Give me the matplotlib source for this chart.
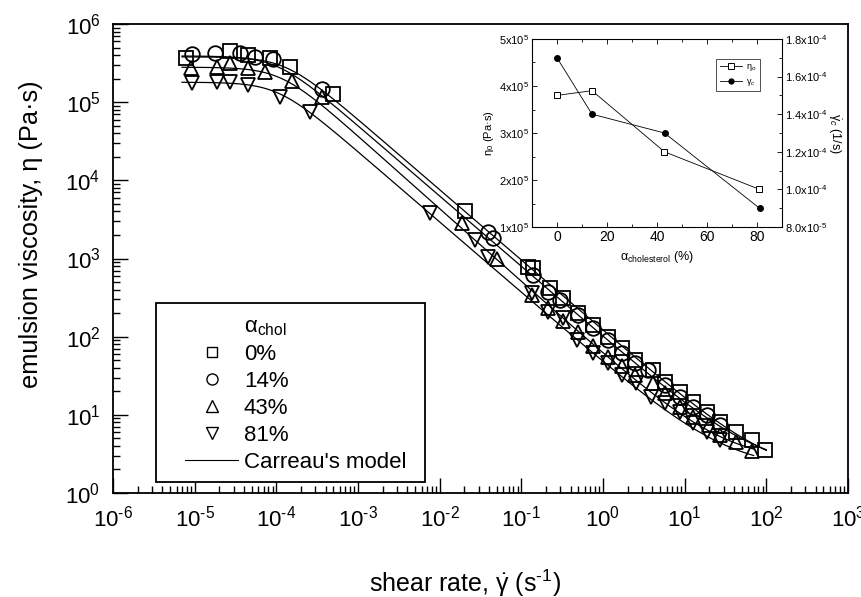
import numpy as np
import matplotlib
matplotlib.use("Agg")
import matplotlib.pyplot as plt
from matplotlib.lines import Line2D
from matplotlib.patches import Rectangle
from matplotlib.ticker import LogLocator, MultipleLocator, FuncFormatter, NullFormatter

plt.rcParams['font.family'] = ['Liberation Sans', 'DejaVu Sans']
plt.rcParams['mathtext.fontset'] = 'custom'
plt.rcParams['mathtext.rm'] = 'Liberation Sans'
plt.rcParams['mathtext.it'] = 'Liberation Sans:italic'
plt.rcParams['mathtext.bf'] = 'Liberation Sans:bold'
plt.rcParams['axes.unicode_minus'] = False

# ---------------- data ----------------
sq_gamma = [7.8e-6, 2.7e-5, 4.5e-5, 8.4e-5, 1.47e-4, 4.9e-4, 0.0204, 0.120, 0.139, 0.225, 0.32,
            0.49, 0.75, 1.15, 1.7, 2.47, 4.1, 5.7, 8.8, 12.6, 18.6, 27, 43, 66, 96]
sq_eta = [3.64e5, 4.55e5, 4.0e5, 3.64e5, 2.84e5, 1.27e5, 4.08e3, 785, 745, 420, 310,
          201, 141, 100, 72, 50, 38, 26.5, 19.8, 14.7, 11.0, 8.2, 6.1, 4.8, 3.6]

ci_gamma = [9.2e-6, 1.77e-5, 3.6e-5, 5.5e-5, 9.0e-5, 3.6e-4, 0.039, 0.045, 0.139, 0.21, 0.30,
            0.49, 0.75, 1.15, 1.7, 2.47, 3.6, 5.7, 8.8, 12.6, 18.6, 27]
ci_eta = [4.1e5, 4.22e5, 4.22e5, 3.81e5, 3.53e5, 1.47e5, 2.2e3, 1.83e3, 615, 376, 294,
          189, 129, 91, 62, 46, 37, 24, 17, 12.7, 9.9, 7.4]

up_gamma = [9.0e-6, 1.86e-5, 2.7e-5, 4.5e-5, 7.3e-5, 1.54e-4, 3.6e-4, 0.019, 0.050, 0.134, 0.21, 0.32,
            0.49, 0.75, 1.15, 1.7, 2.47, 4.1, 5.7, 8.8, 12.6, 20, 27, 43, 66]
up_eta = [2.71e5, 2.84e5, 3.14e5, 2.71e5, 2.45e5, 1.88e5, 1.15e5, 2.87e3, 1.0e3, 341, 230, 160,
          116, 75, 55, 42, 32, 25.5, 19, 12.7, 9.5, 7.4, 5.5, 4.5, 3.4]

dn_gamma = [9.2e-6, 1.86e-5, 2.7e-5, 4.5e-5, 1.11e-4, 2.58e-4, 7.6e-3, 0.027, 0.039, 0.134, 0.21, 0.32,
            0.48, 0.75, 1.15, 1.7, 2.57, 3.9, 5.7, 8.8, 12.6, 18.6, 27]
dn_eta = [1.74e5, 1.83e5, 1.79e5, 1.66e5, 1.15e5, 7.55e4, 3.78e3, 1.73e3, 1.06e3, 359, 208, 173,
          91, 62, 46, 32, 25.5, 17, 14.2, 11, 7.9, 6.1, 4.8]

series_labels = ['0%', '14%', '43%', '81%']

# Carreau model parameters estimated from the curves
model_eta0 = [3.8e5, 3.9e5, 2.8e5, 1.8e5]
model_lambda = [7740, 9800, 8840, 9700]
model_nm1 = [-0.90, -0.90, -0.93, -0.90]
model_etainf = [1.6, 2.0, 2.5, 2.0]
model_gmax = [100, 100, 70, 70]

# inset data
chol = [0, 14, 43, 81]
eta0_inset = [3.8e5, 3.9e5, 2.6e5, 1.8e5]
gammac_inset = [1.7e-4, 1.4e-4, 1.3e-4, 9.0e-5]

HY = '\u2010'  # short hyphen used as minus sign in the original


def decade_fmt(v, p):
    e = int(round(np.log10(v)))
    s = str(abs(e))
    if e < 0:
        s = HY + s
    return r'10$^{%s}$' % s


# ---------------- figure ----------------
fig = plt.figure(figsize=(8.62, 5.97), dpi=100)
ax = fig.add_axes([113/862, 1-493/597, 735/862, 469/597])
ax.set_xscale('log')
ax.set_yscale('log')
ax.set_xlim(1e-6, 1e3)
ax.set_ylim(1e0, 1e6)

for i in range(4):
    g = np.logspace(np.log10(7e-6), np.log10(model_gmax[i]), 400)
    eta = model_etainf[i] + (model_eta0[i]-model_etainf[i])*(1+(model_lambda[i]*g)**2)**(model_nm1[i]/2)
    ax.plot(g, eta, color='black', lw=0.9, zorder=2)

mk = dict(mfc='none', mec='black', mew=1.3, ls='none', zorder=3)
ax.plot(sq_gamma, sq_eta, marker='s', ms=9.5, **mk)
ax.plot(ci_gamma, ci_eta, marker='o', ms=10.5, **mk)
ax.plot(up_gamma, up_eta, marker='^', ms=10.5, **mk)
ax.plot(dn_gamma, dn_eta, marker='v', ms=10.5, **mk)

for s in ax.spines.values():
    s.set_linewidth(1.3)
ax.xaxis.set_major_locator(LogLocator(base=10, numticks=20))
ax.xaxis.set_minor_locator(LogLocator(base=10, subs=np.arange(2, 10), numticks=20))
ax.yaxis.set_major_locator(LogLocator(base=10, numticks=20))
ax.yaxis.set_minor_locator(LogLocator(base=10, subs=np.arange(2, 10), numticks=20))
ax.xaxis.set_major_formatter(FuncFormatter(decade_fmt))
ax.yaxis.set_major_formatter(FuncFormatter(decade_fmt))
ax.xaxis.set_minor_formatter(NullFormatter())
ax.yaxis.set_minor_formatter(NullFormatter())
ax.tick_params(which='both', direction='in', top=False, right=False, labelsize=16, width=1.0)
ax.tick_params(which='major', length=11, pad=9)
ax.tick_params(which='minor', length=5)
ax.tick_params(axis='y', which='major', pad=9)

fig.text(31/862, 1-234/597, 'emulsion viscosity, η (Pa·s)', fontsize=18.3, rotation=90,
         ha='center', va='center')
fig.text(465/862, 1-583/597, r'shear rate, $\dot{\mathrm{\gamma}}$ (s$^{' + HY + '1}$)', fontsize=18,
         ha='center', va='center')

# legend box
ax.add_patch(Rectangle((156/862, 1-482/597), 269/862, 179/597, transform=fig.transFigure,
                       fill=True, fc='white', ec='black', lw=1.3, zorder=4))
handles = [Line2D([], [], ls='none'),
           Line2D([], [], marker='s', ms=7.5, mfc='none', mec='black', mew=1.0, ls='none'),
           Line2D([], [], marker='o', ms=8, mfc='none', mec='black', mew=1.0, ls='none'),
           Line2D([], [], marker='^', ms=8, mfc='none', mec='black', mew=1.0, ls='none'),
           Line2D([], [], marker='v', ms=8, mfc='none', mec='black', mew=1.0, ls='none'),
           Line2D([], [], color='black', lw=0.8)]
labels = [r'$\mathrm{\alpha}_{\mathrm{chol}}$'] + series_labels + ["Carreau's model"]
leg = ax.legend(handles, labels, loc='upper left', bbox_to_anchor=(174/862, 1-305/597),
                bbox_transform=fig.transFigure, frameon=False, fontsize=16,
                handlelength=2.4, handletextpad=0.25, labelspacing=0.27, borderpad=0)
leg.set_zorder(5)

# ---------------- inset ----------------
ia = fig.add_axes([532/862, 1-227/597, 250/862, 188/597])
ia.plot(chol, eta0_inset, color='black', lw=0.6, marker='s', ms=4.5, mfc='white', mec='black', mew=0.7)
ia.set_xlim(-10, 90)
ia.set_ylim(1e5, 5e5)
ia.xaxis.set_major_locator(MultipleLocator(20))
ia.xaxis.set_minor_locator(MultipleLocator(10))
ia.yaxis.set_major_locator(MultipleLocator(1e5))
ia.yaxis.set_minor_locator(MultipleLocator(5e4))
ia.yaxis.set_major_formatter(FuncFormatter(lambda v, p: r'%dx10$^{5}$' % round(v/1e5)))
ia.tick_params(which='both', direction='in', top=True, labelsize=8, width=0.6, pad=2)
ia.tick_params(which='major', length=3.5)
ia.tick_params(which='minor', length=2)
ia.tick_params(axis='x', labelsize=10)
ia.set_ylabel(r'$\mathrm{\eta}_0$ (Pa·s)', fontsize=8, labelpad=2)
ia.set_xlabel(r'$\mathrm{\alpha}_{\mathrm{cholesterol}}$ (%)', fontsize=9, labelpad=4)
for s in ia.spines.values():
    s.set_linewidth(0.7)

ib = ia.twinx()
ib.plot(chol, gammac_inset, color='black', lw=0.6, marker='o', ms=4, mfc='black', mec='black')
ib.set_ylim(8e-5, 1.8e-4)
ib.yaxis.set_major_locator(MultipleLocator(2e-5))
ib.yaxis.set_minor_locator(MultipleLocator(1e-5))


def rfmt(v, p):
    e = int(np.floor(np.log10(v) + 1e-9))
    es = (HY + str(abs(e))) if e < 0 else str(e)
    return r'%.1fx10$^{%s}$' % (v/10**e, es)


ib.yaxis.set_major_formatter(FuncFormatter(rfmt))
ib.tick_params(which='both', direction='in', labelsize=8, width=0.6, pad=2)
ib.tick_params(which='major', length=3.5)
ib.tick_params(which='minor', length=2)
ib.set_ylabel(r'$\dot{\mathrm{\gamma}}_c$ (1/s)', fontsize=9, rotation=270, labelpad=11)

ih = [Line2D([], [], color='black', lw=0.6, marker='s', ms=4, mfc='white', mec='black', mew=0.7),
      Line2D([], [], color='black', lw=0.6, marker='o', ms=3.5, mfc='black', mec='black')]
il = ib.legend(ih, [r'$\mathrm{\eta}_o$', r'$\mathrm{\gamma}_c$'], loc='upper right',
               bbox_to_anchor=(0.93, 0.92),
               fontsize=6.5, frameon=True, fancybox=False, edgecolor='black', handlelength=2.5,
               borderpad=0.4, labelspacing=0.4, handletextpad=0.4)
il.get_frame().set_linewidth(0.6)

fig.savefig('out.png', dpi=100)
